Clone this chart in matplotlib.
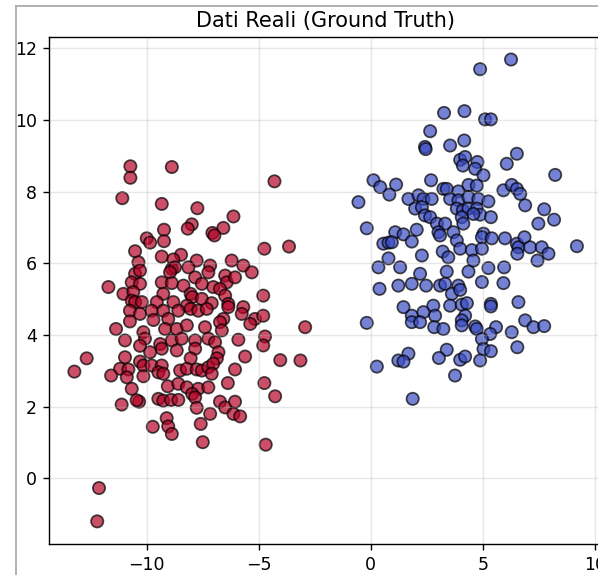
import numpy as np
import matplotlib
matplotlib.use("Agg")
import matplotlib.pyplot as plt
from matplotlib.lines import Line2D

# 簇 1（红色）
red_x = [-10.73, -10.73, -8.88, -4.30, -11.09, -9.33, -7.74, -6.13, -9.23, -7.99, -8.17, -6.58, -7.07, -6.98,
         -10.00, -9.85, -9.23, -10.52, -4.75, -3.65, -9.33, -8.47, -10.37, -7.77, -6.21, -5.69, -8.81, -7.17,
         -10.52, -10.30, -8.88, -8.74, -8.96, -8.14, -7.25, -6.50, -6.43, -6.06, -5.31, -11.71, -10.67, -10.30,
         -9.33, -8.88, -8.36, -7.84, -7.54, -7.03, -6.73, -11.04, -10.60, -10.67, -10.52, -10.22, -9.26, -8.04,
         -7.97, -7.54, -6.50, -4.80, -9.55, -8.81, -8.21, -7.10, -6.36, -6.36, -5.69, -10.75, -10.30, -9.78,
         -9.26, -8.59, -8.04, -7.70, -7.32, -5.76, -5.17, -4.80, -10.75, -9.70, -9.04, -6.58, -6.73, -5.38,
         -11.37, -9.18, -8.66, -8.21, -7.40, -6.65, -2.93, -10.15, -10.08, -10.97, -9.40, -8.88, -8.44, -7.84,
         -7.25, -6.95, -5.91, -4.72, -4.80, -10.30, -9.33, -9.85, -8.66, -7.84, -6.80, -12.68, -10.97, -8.04,
         -6.87, -5.61, -4.04, -3.14,
         -13.23, -11.19, -10.82, -10.30, -10.15, -9.78, -9.33, -9.48, -9.26, -11.59, -10.89, -10.15, -8.51,
         -8.21, -7.77, -7.54, -7.25, -7.03, -7.10, -6.06, -10.67, -9.06, -8.59, -8.21, -7.70, -7.25, -6.38,
         -4.75, -7.97, -7.84, -4.27, -11.12, -10.34, -10.45, -9.48, -9.26, -8.91, -8.59, -7.77, -6.73, -6.50,
         -6.06, -6.13, -5.83, -7.17, -9.11, -9.04, -8.88, -9.73, -7.59, -7.50, -4.69, -12.13, -12.21]
red_y = [8.71, 8.39, 8.69, 8.29, 7.82, 7.66, 7.54, 7.31, 6.94, 7.09, 6.97, 6.99, 6.85, 6.78,
         6.70, 6.58, 6.62, 6.34, 6.41, 6.47, 6.19, 6.24, 6.03, 6.08, 6.08, 5.94, 6.11, 5.94,
         5.71, 5.80, 5.85, 5.89, 5.75, 5.89, 5.75, 5.66, 5.47, 5.61, 5.75, 5.34, 5.47, 5.43,
         5.47, 5.45, 5.38, 5.61, 5.43, 5.34, 5.29, 5.15, 5.20, 4.96, 4.92, 4.92, 5.15, 5.15,
         5.06, 5.01, 5.10, 5.10, 4.92, 4.92, 4.82, 4.89, 4.87, 4.78, 4.78, 4.68, 4.59, 4.68,
         4.68, 4.68, 4.73, 4.68, 4.73, 4.59, 4.45, 4.54, 4.38, 4.42, 4.45, 4.45, 4.36, 4.31,
         4.17, 4.17, 4.17, 4.27, 4.22, 4.13, 4.22, 4.08, 3.90, 3.85, 3.75, 3.85, 3.90, 3.85,
         3.90, 3.80, 3.87, 3.96, 3.71, 3.70, 3.62, 3.52, 3.57, 3.62, 3.52, 3.35, 3.38, 3.35,
         3.35, 3.40, 3.30, 3.29,
         2.98, 3.06, 3.04, 3.26, 3.15, 3.15, 3.15, 2.96, 2.92, 2.87, 2.82, 2.85, 3.01,
         3.06, 3.04, 3.01, 3.10, 3.20, 2.92, 3.04, 2.50, 2.57, 2.64, 2.54, 2.50, 2.54, 2.66,
         2.66, 2.36, 2.26, 2.29, 2.06, 2.14, 2.18, 2.22, 2.17, 2.19, 2.19, 1.97, 2.14, 1.98,
         2.14, 1.80, 1.73, 1.80, 1.68, 1.45, 1.24, 1.44, 1.52, 1.01, 0.94, -0.27, -1.20]

# 簇 0（蓝色）
blue_x = [6.26, 4.88, 3.27, 4.18, 5.10, 5.36, 2.65, 2.42, 2.45, 3.54, 4.17, 6.52, 6.07, 3.99, 4.21, 4.11,
          4.76, 4.66,
          5.03, 8.23, 0.12, 0.42, 1.13, 0.83, -0.55, 2.69, 3.24, 3.39, 3.91, 4.36, 4.73, 5.92, 6.29, 6.52,
          6.67, 1.68, 2.13, 2.35, 2.72, 1.98, 2.28, 3.54, 3.91, 4.36, 4.80, 5.25, 3.84, 4.11, 4.36, 4.73,
          4.88, 4.58, 4.06, 4.13, 2.42, 2.65, 5.36, 6.89, 7.74, 7.48, 8.18, -0.18, 1.09, 1.46, 2.05, 1.83,
          0.56, 0.79, 0.94, 2.95, 3.32, 3.02, 3.09, 3.69, 3.84, 5.03, 4.96, 5.40, 5.99, 6.52, 6.59, 6.86,
          7.11, 7.63, 7.93, 7.44, 6.54, 9.20, 2.28, 3.21, 3.46, 3.99, 4.51, 4.58, 4.96, 0.79, 0.34, 1.31,
          2.20, 3.39, 4.36, 5.25, 5.95,
          0.39, 1.23, 1.83, 2.47, 3.09, 3.32, 3.91, 4.96, 5.92, 3.62, 3.99, 6.59, 1.46, 1.83, 2.35, 2.79,
          2.87, 3.54, 4.06, 4.29, 4.21, 4.06, 4.06, 5.36, 5.36, 6.89, 7.26, 7.74, 6.29, 5.59, 5.33, 4.66,
          4.73, -0.18, 1.83, 2.20, 2.83, 3.24, 4.96, 6.54, 5.03, 5.36, 3.39, 3.04, 1.68, 1.23, 1.46, 3.99,
          4.21, 4.88, 0.27, 3.76, 1.87]
blue_y = [11.69, 11.42, 10.20, 10.25, 10.02, 10.02, 9.69, 9.25, 9.19, 9.29, 9.43, 9.06, 8.78, 8.89, 8.97, 8.73,
          8.83, 8.64,
          8.46, 8.47, 8.32, 8.13, 8.20, 7.92, 7.71, 8.32, 8.08, 8.08, 8.01, 8.19, 8.17, 8.04, 8.19, 8.08,
          7.94, 7.80, 7.90, 7.80, 7.80, 7.53, 7.57, 7.80, 7.76, 7.85, 7.80, 7.73, 7.53, 7.48, 7.53, 7.53,
          7.36, 7.38, 7.29, 7.11, 7.34, 7.29, 7.29, 7.62, 7.51, 7.11, 7.22, 6.98, 6.87, 6.81, 6.94, 6.61,
          6.55, 6.58, 6.59, 7.11, 7.11, 6.87, 6.78, 6.87, 6.64, 6.83, 6.73, 6.70, 6.70, 6.55, 6.45, 6.73,
          6.45, 6.45, 6.27, 6.08, 6.27, 6.48, 6.22, 6.33, 6.17, 6.41, 6.37, 6.08, 6.41, 6.14, 5.89, 5.89,
          5.71, 5.77, 5.77, 5.87, 5.89,
          5.29, 5.38, 5.43, 5.38, 5.38, 5.43, 5.38, 5.48, 5.45, 5.15, 5.26, 4.92, 4.78, 4.54, 4.64, 4.82,
          4.54, 4.82, 4.85, 4.89, 4.54, 4.41, 4.27, 4.87, 4.80, 4.41, 4.22, 4.25, 4.08, 4.22, 4.03, 4.24,
          4.17, 4.34, 4.36, 4.36, 4.22, 4.17, 3.89, 3.66, 3.61, 3.55, 3.59, 3.36, 3.48, 3.29, 3.26, 3.31,
          3.40, 3.29, 3.12, 2.87, 2.22]

X = np.column_stack([blue_x + red_x, blue_y + red_y])
labels = np.array([0] * len(blue_x) + [1] * len(red_x))

fig = plt.figure(figsize=(598 / 125, 575 / 125), dpi=125)
ax = fig.add_axes([0.0824, 0.0534, 0.9243, 0.8817])

ax.scatter(X[:, 0], X[:, 1], c=labels, cmap='coolwarm', s=50, alpha=0.7, edgecolors='k')
ax.set_title('Dati Reali (Ground Truth)')
ax.grid(True, alpha=0.3)
ax.set_xlim(-14.35, 10.32)
ax.set_ylim(-1.84, 12.31)

# 截图边框
fig.add_artist(Line2D([0.0268, 1.0], [0.9896, 0.9896], color='#a8a8a8', lw=1))
fig.add_artist(Line2D([0.0268, 0.0268], [0.0, 0.9896], color='#a8a8a8', lw=1))

plt.savefig('out.png', dpi=125)
